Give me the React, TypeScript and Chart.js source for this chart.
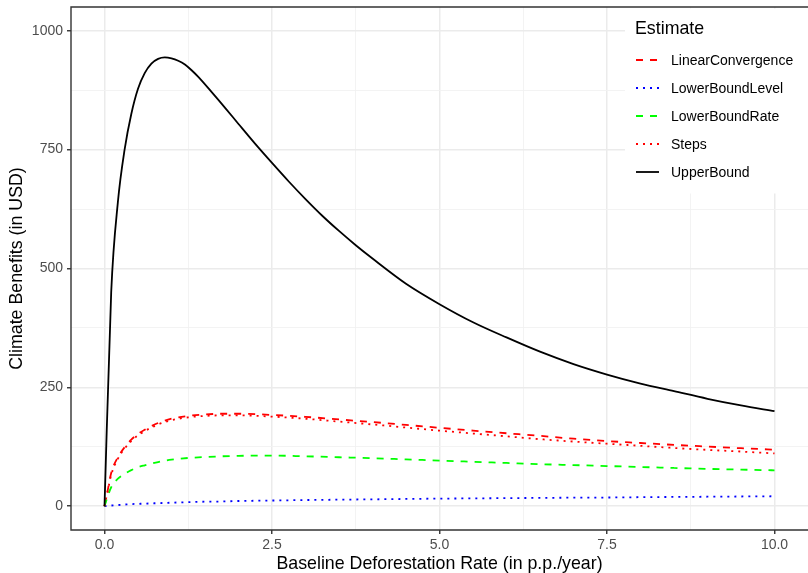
import React, { useEffect, useRef } from "react";
import { Chart, registerables } from "chart.js";
Chart.register(...registerables);

// ---- data ----
const upperX = [0, 0.1, 0.2, 0.3, 0.4, 0.5, 0.6, 0.7, 0.8, 0.9, 1.0, 1.1, 1.2, 1.3, 1.4, 1.6, 1.8, 2.0, 2.25, 2.5, 2.75, 3.0, 3.25, 3.5, 3.75, 4.0, 4.5, 5.0, 5.5, 6.0, 6.5, 7.0, 7.5, 8.0, 8.5, 9.0, 9.5, 10];
const upperBound = [0, 450, 640, 750, 825, 878, 911, 931, 941, 944, 942, 937, 929, 917, 903, 871, 838, 804, 762, 722, 683, 646, 611, 579, 549, 521, 468, 425, 387, 355, 325, 299, 277, 258, 242, 226, 212, 200];

const lowerX = [0, 0.05, 0.1, 0.2, 0.3, 0.4, 0.5, 0.6, 0.8, 1.0, 1.25, 1.5, 1.75, 2.0, 2.5, 3.0, 3.5, 4.0, 4.5, 5.0, 5.5, 6.0, 6.5, 7.0, 7.5, 8.0, 8.5, 9.0, 9.5, 10];
const linearConvergence = [0, 35, 70, 103, 124, 140, 152, 161, 175, 184, 190, 193, 194.5, 194.5, 192, 188, 182.5, 177, 171, 165, 159, 153.5, 148, 142, 137, 133, 129, 125.5, 122, 119];
const steps = [0, 33, 66, 100, 121, 137, 149, 158, 172, 181, 187, 190, 191, 191, 188.5, 184, 178, 172, 165.5, 159, 153, 147, 141, 136, 131.5, 127, 122.5, 118.5, 115, 111];
const lowerBoundRate = [0, 22, 40, 58, 68, 76, 82, 86, 93, 98, 101.5, 103.5, 105, 106, 106.5, 105, 103, 101, 98.5, 96, 93.5, 91, 88.5, 86.5, 84.5, 82.5, 80.5, 78.5, 77, 75.5];
const lowerBoundLevel = [0, 0.8, 1.5, 2.5, 3.5, 4.5, 5, 5.5, 6.5, 7.5, 8.5, 9.5, 10, 11, 12, 13, 13.8, 14.5, 15.3, 16, 16.5, 17, 17.5, 18, 18.3, 19, 19.5, 20, 20.5, 21];

const seriesNames = ["LinearConvergence", "LowerBoundLevel", "LowerBoundRate", "Steps", "UpperBound"];
const xMajorTicks = [0, 2.5, 5, 7.5, 10];
const yMajorTicks = [0, 250, 500, 750, 1000];

const FONT = '"Liberation Sans", Arial, Helvetica, sans-serif';
const LW = 1.8;
const DASHED = [7, 7];
const DOTTED = [2, 5];

const styles: Record<string, { color: string; dash: number[] }> = {
  LinearConvergence: { color: "#FF0000", dash: DASHED },
  LowerBoundLevel: { color: "#0000FF", dash: DOTTED },
  LowerBoundRate: { color: "#00FF00", dash: DASHED },
  Steps: { color: "#FF0000", dash: DOTTED },
  UpperBound: { color: "#000000", dash: [] },
};

const pts = (xs: number[], ys: number[]) => xs.map((x, i) => ({ x, y: ys[i] }));

const isMajor = (v: number, step: number) => Math.abs(v / step - Math.round(v / step)) < 1e-6;

const framePlugin = {
  id: "frameLegend",
  afterDatasetsDraw(chart: any) {
    const { ctx, chartArea: a } = chart;
    ctx.save();
    ctx.strokeStyle = "#333333";
    ctx.lineWidth = 1.4;
    ctx.setLineDash([]);
    ctx.beginPath();
    ctx.moveTo(a.right + 5, a.top);
    ctx.lineTo(a.left, a.top);
    ctx.lineTo(a.left, a.bottom);
    ctx.lineTo(a.right + 5, a.bottom);
    ctx.stroke();

    // legend
    ctx.fillStyle = "#FFFFFF";
    ctx.fillRect(625, 8.5, 190, 185);
    ctx.fillStyle = "#000000";
    ctx.textBaseline = "alphabetic";
    ctx.textAlign = "left";
    ctx.font = `17.8px ${FONT}`;
    ctx.fillText("Estimate", 635, 34.4);
    ctx.font = `14px ${FONT}`;
    seriesNames.forEach((name, i) => {
      const cy = 60 + i * 28;
      const st = styles[name];
      ctx.strokeStyle = st.color;
      ctx.lineWidth = LW;
      ctx.lineCap = "butt";
      ctx.setLineDash(st.dash);
      ctx.beginPath();
      ctx.moveTo(636, cy);
      ctx.lineTo(659, cy);
      ctx.stroke();
      ctx.setLineDash([]);
      ctx.fillStyle = "#000000";
      ctx.fillText(name, 671, cy + 5);
    });
    ctx.restore();
  },
};

export default function App() {
  const ref = useRef<HTMLCanvasElement>(null);
  useEffect(() => {
    document.body.style.margin = "0";
    document.body.style.overflow = "hidden";
    Chart.defaults.font.family = FONT;
    const dataMap: Record<string, { x: number; y: number }[]> = {
      LinearConvergence: pts(lowerX, linearConvergence),
      LowerBoundLevel: pts(lowerX, lowerBoundLevel),
      LowerBoundRate: pts(lowerX, lowerBoundRate),
      Steps: pts(lowerX, steps),
      UpperBound: pts(upperX, upperBound),
    };
    const datasets = seriesNames.map((name, i) => ({
      label: name,
      data: dataMap[name],
      borderColor: styles[name].color,
      borderDash: styles[name].dash,
      borderWidth: LW,
      borderCapStyle: "butt" as const,
      pointRadius: 0,
      fill: false,
      cubicInterpolationMode: "monotone" as const,
      order: seriesNames.length - i,
    }));
    const gridColor = (step: number) => (c: any) =>
      c.tick && isMajor(c.tick.value, step) ? "#EBEBEB" : "#F2F2F2";
    const gridWidth = (step: number) => (c: any) =>
      c.tick && isMajor(c.tick.value, step) ? 1.5 : 0.9;
    const tickColor = (step: number) => (c: any) =>
      c.tick && isMajor(c.tick.value, step) ? "#333333" : "rgba(0,0,0,0)";

    const chart = new Chart(ref.current!, {
      type: "line",
      data: { datasets },
      plugins: [framePlugin],
      options: {
        animation: false,
        responsive: false,
        devicePixelRatio: 1,
        layout: { padding: { top: 7, left: 0, right: 0, bottom: 0 } },
        plugins: { legend: { display: false }, tooltip: { enabled: false } },
        scales: {
          x: {
            type: "linear",
            min: -0.5,
            max: 10.5,
            afterBuildTicks: (s: any) => {
              const t = [];
              for (let v = 0; v <= 10.0001; v += 1.25) t.push({ value: v });
              s.ticks = t;
            },
            afterFit: (s: any) => {
              s.height = 43;
              s.paddingLeft = 0;
              s.paddingRight = 0;
            },
            border: { display: false },
            grid: {
              color: gridColor(2.5),
              lineWidth: gridWidth(2.5),
              drawTicks: true,
              tickLength: 4,
              tickColor: tickColor(2.5),
              tickWidth: 1.4,
            },
            ticks: {
              autoSkip: false,
              maxRotation: 0,
              padding: 3,
              color: "#4D4D4D",
              font: { size: 14 },
              callback: (v: any) => (xMajorTicks.some((m) => Math.abs(m - v) < 1e-6) ? Number(v).toFixed(1) : ""),
            },
            title: {
              display: true,
              text: "Baseline Deforestation Rate (in p.p./year)",
              color: "#000000",
              font: { size: 17.8, lineHeight: 1 },
              padding: { top: 0, bottom: 0 },
            },
          },
          y: {
            type: "linear",
            min: -50,
            max: 1050,
            afterBuildTicks: (s: any) => {
              const t = [];
              for (let v = 0; v <= 1000; v += 125) t.push({ value: v });
              s.ticks = t;
            },
            afterFit: (s: any) => {
              s.width = 71;
              s.paddingTop = 0;
              s.paddingBottom = 0;
            },
            border: { display: false },
            grid: {
              color: gridColor(250),
              lineWidth: gridWidth(250),
              drawTicks: true,
              tickLength: 4,
              tickColor: tickColor(250),
              tickWidth: 1.4,
            },
            ticks: {
              autoSkip: false,
              padding: 4,
              color: "#4D4D4D",
              font: { size: 14 },
              callback: (v: any) => (yMajorTicks.includes(Number(v)) ? String(v) : ""),
            },
            title: {
              display: true,
              text: "Climate Benefits (in USD)",
              color: "#000000",
              font: { size: 17.8, lineHeight: 1 },
              padding: { top: 8, bottom: 0 },
            },
          },
        },
      },
    } as any);
    return () => chart.destroy();
  }, []);
  return (
    <div style={{ position: "absolute", left: 0, top: 0, width: 808, height: 573, overflow: "hidden" }}>
      <canvas ref={ref} width={808} height={573} style={{ display: "block" }} />
    </div>
  );
}
